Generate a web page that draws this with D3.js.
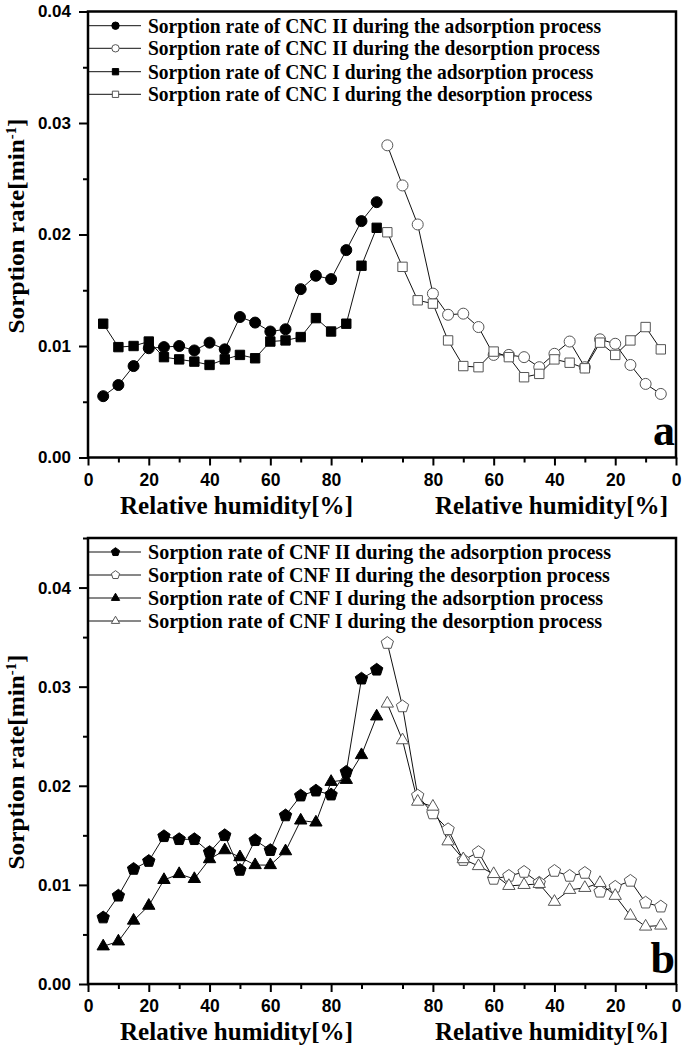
<!DOCTYPE html>
<html><head><meta charset="utf-8">
<script src="https://cdn.jsdelivr.net/npm/d3@7"></script>
<style>body{margin:0;background:#fff} svg{display:block}</style>
</head><body>
<svg id="c" width="685" height="1047"></svg>
<script>
// ---------- data ----------
const rhAds = [5,10,15,20,25,30,35,40,45,50,55,60,65,70,75,80,85,90,95];
const rhDes = [95,90,85,80,75,70,65,60,55,50,45,40,35,30,25,20,15,10,5];

const cncIIAds = [0.0055,0.0065,0.0082,0.0098,0.0099,0.0100,0.0096,0.0103,0.0097,0.0126,0.0121,0.0113,0.0115,0.0151,0.0163,0.0160,0.0186,0.0212,0.0229];
const cncIIDes = [0.0280,0.0244,0.0209,0.0147,0.0128,0.0129,0.0117,0.0092,0.0092,0.0090,0.0081,0.0093,0.0104,0.0081,0.0106,0.0102,0.0083,0.0066,0.0057];
const cncIAds  = [0.0120,0.0099,0.0100,0.0104,0.0090,0.0088,0.0086,0.0083,0.0088,0.0092,0.0089,0.0104,0.0105,0.0108,0.0125,0.0113,0.0120,0.0172,0.0206];
const cncIDes  = [0.0202,0.0171,0.0141,0.0138,0.0105,0.0082,0.0081,0.0095,0.0090,0.0072,0.0075,0.0088,0.0085,0.0080,0.0103,0.0092,0.0105,0.0117,0.0097];

const cnfIIAds = [0.0067,0.0089,0.0116,0.0124,0.0149,0.0146,0.0146,0.0133,0.0150,0.0115,0.0145,0.0135,0.0170,0.0190,0.0195,0.0191,0.0214,0.0308,0.0317];
const cnfIIDes = [0.0344,0.0280,0.0190,0.0172,0.0156,0.0125,0.0133,0.0106,0.0109,0.0113,0.0102,0.0114,0.0109,0.0112,0.0093,0.0098,0.0104,0.0082,0.0078];
const cnfIAds  = [0.0038,0.0043,0.0064,0.0079,0.0105,0.0111,0.0106,0.0126,0.0135,0.0128,0.0120,0.0120,0.0134,0.0165,0.0163,0.0204,0.0206,0.0231,0.0270];
const cnfIDes  = [0.0283,0.0246,0.0184,0.0179,0.0144,0.0126,0.0119,0.0111,0.0099,0.0100,0.0101,0.0083,0.0095,0.0097,0.0102,0.0089,0.0069,0.0058,0.0059];

const legendA = ["Sorption rate of CNC II during the adsorption process",
                 "Sorption rate of CNC II during the desorption process",
                 "Sorption rate of CNC I during the adsorption process",
                 "Sorption rate of CNC I during the desorption process"];
const legendB = ["Sorption rate of CNF II during the adsorption process",
                 "Sorption rate of CNF II during the desorption process",
                 "Sorption rate of CNF I during the adsorption process",
                 "Sorption rate of CNF I during the desorption process"];

const yMajor = [0,0.01,0.02,0.03,0.04];
const xLabelsRH = [0,20,40,60,80];
const xMinorRH = [10,30,50,70,90];
const xTitle = "Relative humidity[%]";

// ---------- drawing ----------
const svg = d3.select("#c");
const X0 = 88, X1 = 676, U = 193.5;
const x = d3.scaleLinear().domain([0, U]).range([X0, X1]);
const uAds = rh => rh, uDes = rh => U - rh;

const pentagon = {draw(ctx, size){
  const r = Math.sqrt(size / 2.378);
  for (let i = 0; i < 5; i++){
    const a = -Math.PI/2 + i*2*Math.PI/5;
    const px = r*Math.cos(a), py = r*Math.sin(a);
    if (i) ctx.lineTo(px, py); else ctx.moveTo(px, py);
  }
  ctx.closePath();
}};

function panel(cfg){
  const g = svg.append("g");
  const y = d3.scaleLinear().domain([0, cfg.ymax]).range([cfg.bottom, cfg.top]);

  const series = cfg.series.map(s => ({...s,
    pts: s.values.map((v,i) => ({u: s.des ? uDes(s.rh[i]) : uAds(s.rh[i]), v}))}));

  const line = d3.line().x(d => x(d.u)).y(d => y(d.v));
  series.forEach(s => {
    g.append("path").datum(s.pts).attr("fill","none")
      .attr("stroke","#111").attr("stroke-width",1).attr("d", line);
  });
  series.forEach(s => {
    g.selectAll(null).data(s.pts).join("path")
      .attr("transform", d => `translate(${x(d.u)},${y(d.v)})`)
      .attr("d", d3.symbol().type(s.shape).size(s.size))
      .attr("fill", s.filled ? "#000" : "#fff")
      .attr("stroke", s.filled ? "#000" : "#555")
      .attr("stroke-width", 1);
  });

  // frame
  g.append("rect").attr("x", X0).attr("y", cfg.top)
    .attr("width", X1 - X0).attr("height", cfg.bottom - cfg.top)
    .attr("fill","none").attr("stroke","#000").attr("stroke-width",2.5);

  // y axis
  const yMinor = d3.range(0.005, cfg.ymax + 1e-9, 0.01);
  g.append("g").attr("transform", `translate(${X0},0)`)
    .call(d3.axisLeft(y).tickValues(yMajor).tickFormat(d3.format(".2f")).tickSize(9).tickPadding(8));
  g.append("g").attr("transform", `translate(${X0},0)`)
    .call(d3.axisLeft(y).tickValues(yMinor).tickFormat("").tickSize(5));

  // x axis: adsorption (left) and desorption (right) halves
  const majU = xLabelsRH.map(uAds).concat(xLabelsRH.map(uDes));
  const minU = xMinorRH.map(uAds).concat(xMinorRH.map(uDes));
  const labelOf = u => String(Math.round(u <= 96 ? u : U - u));
  g.append("g").attr("class","xmaj").attr("transform", `translate(0,${cfg.bottom})`)
    .call(d3.axisBottom(x).tickValues(majU).tickFormat(labelOf).tickSize(8).tickPadding(8));
  g.append("g").attr("transform", `translate(0,${cfg.bottom})`)
    .call(d3.axisBottom(x).tickValues(minU).tickFormat("").tickSize(5));

  g.selectAll(".domain").remove();
  g.selectAll(".tick line").attr("stroke","#000").attr("stroke-width",2);
  g.selectAll(".tick text").attr("fill","#000")
    .style("font-family","'Liberation Sans', Arial, sans-serif")
    .style("font-weight","bold").style("font-size","17px");
  g.selectAll(".xmaj .tick text").style("font-size","17.5px");

  // x titles
  [236.5, 551.5].forEach(cx => {
    g.append("text").attr("x", cx).attr("y", cfg.bottom + 56)
      .attr("text-anchor","middle")
      .attr("textLength", 233).attr("lengthAdjust","spacingAndGlyphs")
      .style("font-family","'Liberation Serif', 'Times New Roman', serif")
      .style("font-weight","bold").style("font-size","25px")
      .text(xTitle);
  });

  // y title
  const yt = g.append("text").attr("text-anchor","middle")
    .style("font-family","'Liberation Serif', 'Times New Roman', serif")
    .style("font-weight","bold").style("font-size","24px");
  yt.append("tspan").text("Sorption rate[min");
  yt.append("tspan").attr("baseline-shift","super").style("font-size","14px").text("-1");
  yt.append("tspan").text("]");
  const w = yt.node().getComputedTextLength();
  const k = 215 / w;
  yt.attr("transform", `translate(24,${cfg.ytitleCy}) rotate(-90) scale(${k},1)`);

  // legend
  const tmp = [];
  cfg.legend.forEach((label, i) => {
    const ry = cfg.legendY[i];
    const s = series[i];
    g.append("line").attr("x1", X0 + 1).attr("x2", 141).attr("y1", ry).attr("y2", ry)
      .attr("stroke","#111").attr("stroke-width",1);
    g.append("path").attr("transform", `translate(115.5,${ry})`)
      .attr("d", d3.symbol().type(s.shape).size(s.size * 0.45))
      .attr("fill", s.filled ? "#000" : "#fff")
      .attr("stroke", s.filled ? "#000" : "#555").attr("stroke-width",1);
    const t = g.append("text").attr("x", 148).attr("y", ry + 7)
      .style("font-family","'Liberation Serif', 'Times New Roman', serif")
      .style("font-weight","bold").style("font-size","21px")
      .text(label);
    tmp.push(t);
  });
  const base = tmp[0].node().getComputedTextLength();
  const kk = cfg.legendW / base;
  tmp.forEach(t => t.attr("textLength", t.node().getComputedTextLength() * kk)
    .attr("lengthAdjust","spacingAndGlyphs"));

  // panel letter
  g.append("text").attr("x", 675).attr("y", cfg.letterY).attr("text-anchor","end")
    .style("font-family","'Liberation Serif', 'Times New Roman', serif")
    .style("font-weight","bold").style("font-size","44px")
    .text(cfg.letter);
}

panel({
  top: 11.5, bottom: 457.5, ymax: 0.04,
  series: [
    {values: cncIIAds, rh: rhAds, des:false, shape: d3.symbolCircle, size: 95, filled: true},
    {values: cncIIDes, rh: rhDes, des:true,  shape: d3.symbolCircle, size: 95, filled: false},
    {values: cncIAds,  rh: rhAds, des:false, shape: d3.symbolSquare, size: 88, filled: true},
    {values: cncIDes,  rh: rhDes, des:true,  shape: d3.symbolSquare, size: 88, filled: false}
  ],
  legend: legendA, legendY: [25.7, 48.3, 71.7, 94.3], legendW: 453,
  ytitleCy: 226, letter: "a", letterY: 445
});

panel({
  top: 538, bottom: 984, ymax: 0.045,
  series: [
    {values: cnfIIAds, rh: rhAds, des:false, shape: pentagon, size: 100, filled: true},
    {values: cnfIIDes, rh: rhDes, des:true,  shape: pentagon, size: 100, filled: false},
    {values: cnfIAds,  rh: rhAds, des:false, shape: d3.symbolTriangle, size: 66, filled: true},
    {values: cnfIDes,  rh: rhDes, des:true,  shape: d3.symbolTriangle, size: 66, filled: false}
  ],
  legend: legendB, legendY: [552, 575, 598, 621], legendW: 463,
  ytitleCy: 762, letter: "b", letterY: 973
});
</script>
</body></html>
